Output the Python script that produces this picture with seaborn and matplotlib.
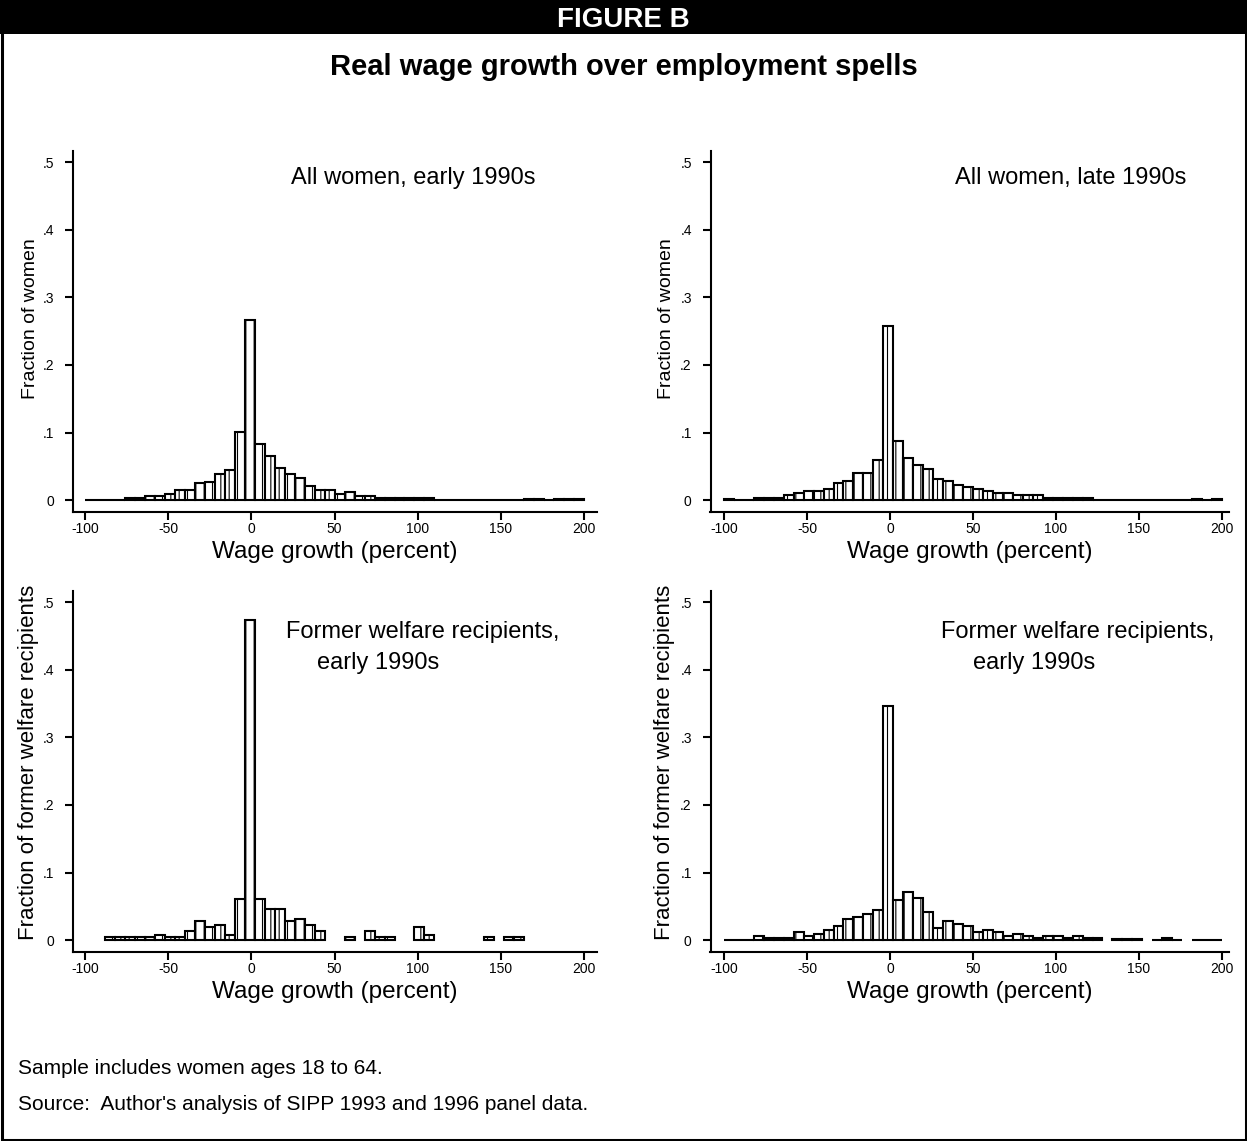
import numpy as np
import pandas as pd
import matplotlib
matplotlib.use('Agg')
import matplotlib.pyplot as plt
from matplotlib.patches import Rectangle
import seaborn as sns

# Histogram bins: 6-point bins from -100 to 200 percent wage growth
bin_edges = list(range(-100, 201, 6))
bin_mids = [e + 3 for e in bin_edges[:-1]]

# t / T = bins that only show up as a line on the baseline
t = 0.0004
T = 0.0012

women_early = [t, t, t, t, .003, .003, .006, .006, .009, .015,
               .015, .025, .027, .039, .045, .101, .266, .083, .065, .048,
               .039, .033, .021, .015, .015, .009, .012, .006, .006, .003,
               .003, .003, .003, .003, .003, t, t, t, t, t,
               t, t, t, t, T, T, t, T, T, T]

women_late = [T, t, t, .003, .003, .003, .007, .011, .013, .013,
              .016, .026, .028, .040, .040, .060, .258, .087, .063, .052,
              .046, .031, .028, .022, .019, .016, .013, .010, .010, .007,
              .007, .007, .003, .003, .003, .003, .003, t, t, t,
              t, t, t, t, t, t, t, T, t, T]

welfare_early_a = [0, 0, .005, .005, .005, .005, .005, .008, .005, .005,
                   .014, .028, .020, .023, .008, .061, .473, .061, .046, .046,
                   .028, .031, .023, .014, 0, 0, .005, 0, .014, .005,
                   .005, 0, 0, .020, .008, 0, 0, 0, 0, 0,
                   .005, 0, .005, .005, 0, 0, 0, 0, 0, 0]

welfare_early_b = [t, t, t, .006, .003, .003, .003, .012, .006, .009,
                   .015, .021, .032, .035, .038, .044, .347, .059, .071, .062,
                   .041, .018, .029, .024, .021, .012, .015, .012, .006, .009,
                   .006, .003, .006, .006, .003, .006, .003, .003, 0, .002,
                   .002, .002, 0, t, .003, t, 0, t, t, t]

panel_series = [women_early, women_late, welfare_early_a, welfare_early_b]
panel_labels = [['All women, early 1990s'],
                ['All women, late 1990s'],
                ['Former welfare recipients,', 'early 1990s'],
                ['Former welfare recipients,', 'early 1990s']]
y_labels = ['Fraction of women', 'Fraction of women',
            'Fraction of former welfare recipients',
            'Fraction of former welfare recipients']
y_ticks = [0, .1, .2, .3, .4, .5]
y_ticklabels = ['0', '.1', '.2', '.3', '.4', '.5']
x_ticks = [-100, -50, 0, 50, 100, 150, 200]

sns.set_theme(style='ticks')
plt.rcParams['font.family'] = ['Liberation Sans', 'DejaVu Sans']
plt.rcParams['text.color'] = 'black'
plt.rcParams['axes.labelcolor'] = 'black'
plt.rcParams['hatch.color'] = '#9a9a9a'
plt.rcParams['hatch.linewidth'] = 0.8

W, H = 1247, 1141
fig = plt.figure(figsize=(W / 100, H / 100), dpi=100)

# axes boxes in pixels: left, top, right, bottom
boxes = [(72.7, 151, 597, 512), (710.5, 151, 1229, 512),
         (72.7, 591, 597, 952), (710.5, 591, 1229, 952)]
xlims = [(-107.4, 207.7), (-108.1, 204.2), (-107.4, 207.7), (-108.1, 204.2)]
ylabel_sizes = [14, 14, 16, 16]
# y-label anchor in axes fraction (right edge of the rotated text, centre)
ylabel_xy = [(-0.064, 0.537), (-0.068, 0.537), (-0.064, 0.524), (-0.068, 0.524)]
# label anchor (x data, y data) for each line of the panel label
label_pos = [[(24, .476)], [(39, .476)],
             [(21, .456), (39.5, .41)], [(30.7, .456), (50, .41)]]

for i in range(4):
    l, tp, r, b = boxes[i]
    ax = fig.add_axes([l / W, (H - b) / H, (r - l) / W, (b - tp) / H])
    df = pd.DataFrame({'growth': bin_mids, 'fraction': panel_series[i]})
    sns.histplot(data=df, x='growth', weights='fraction', bins=bin_edges,
                 stat='count', facecolor='white', edgecolor='black',
                 linewidth=1.5, alpha=1, hatch='||', ax=ax)
    # empty bins are not drawn in the original
    for p in list(ax.patches):
        if p.get_height() == 0:
            p.remove()

    ax.set_xlim(*xlims[i])
    ax.set_ylim(-0.0175, 0.5165)
    ax.set_xticks(x_ticks)
    ax.set_xticklabels([str(v) for v in x_ticks])
    ax.set_yticks(y_ticks)
    ax.set_yticklabels(y_ticklabels)
    sns.despine(ax=ax)
    for s in ['left', 'bottom']:
        ax.spines[s].set_linewidth(1.5)
        ax.spines[s].set_color('black')
    ax.tick_params(axis='both', direction='out', length=5.5, width=1.5,
                   colors='black', labelsize=10)
    ax.tick_params(axis='y', pad=8)
    ax.tick_params(axis='x', pad=2)
    ax.set_xlabel('Wage growth (percent)', fontsize=17.5, labelpad=3)
    ax.set_ylabel(y_labels[i], fontsize=ylabel_sizes[i])
    ax.yaxis.set_label_coords(*ylabel_xy[i])

    for txt, (xp, yp) in zip(panel_labels[i], label_pos[i]):
        ax.text(xp, yp, txt, fontsize=17, ha='left', va='center')

# header band and frame
fig.patches.append(Rectangle((0, 1 - 34 / H), 1, 34 / H, transform=fig.transFigure,
                             facecolor='black', edgecolor='none', zorder=0))
fig.patches.append(Rectangle((1.5 / W, 1.5 / H), (W - 3) / W, (H - 3) / H,
                             transform=fig.transFigure, fill=False,
                             edgecolor='black', linewidth=2.2))
fig.text(0.5, 1 - 27 / H, 'FIGURE B', color='white', fontsize=20,
         fontweight='bold', ha='center', va='baseline')
fig.text(0.5, 1 - 75 / H, 'Real wage growth over employment spells',
         fontsize=21, fontweight='bold', ha='center', va='baseline')

fig.text(18 / W, 1 - 1068 / H, 'Sample includes women ages 18 to 64.',
         fontsize=15, ha='left', va='center')
fig.text(18 / W, 1 - 1105 / H,
         "Source:  Author's analysis of SIPP 1993 and 1996 panel data.",
         fontsize=15, ha='left', va='center')

fig.savefig('out.png', dpi=100)
